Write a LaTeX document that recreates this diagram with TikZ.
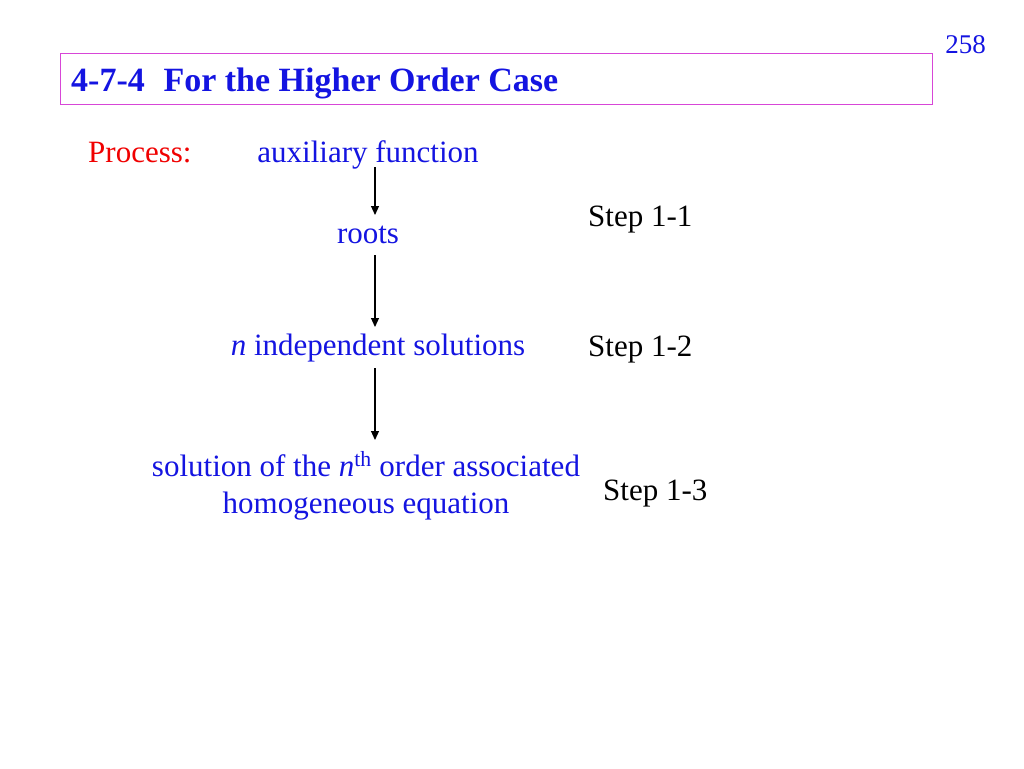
\documentclass[tikz,border=0pt]{standalone}
\usepackage{fontspec}
\setmainfont{Liberation Serif}
\usetikzlibrary{arrows.meta}
\definecolor{tblue}{RGB}{20,20,225}
\definecolor{tred}{RGB}{240,0,0}
\definecolor{tmag}{RGB}{215,70,215}
\tikzset{
  body/.style={inner sep=0pt, font=\fontsize{31}{37}\selectfont},
  flow/.style={body, text=tblue},
  steplabel/.style={body, text=black},
  arr/.style={draw=black, line width=1.2pt, -{Triangle[length=9pt,width=8pt]}},
}
\begin{document}
\begin{tikzpicture}[x=1pt,y=-1pt]
\useasboundingbox[fill=white] (0,0) rectangle (1024,768);
\node[draw=tmag, line width=1pt, minimum width=872pt, minimum height=51pt, anchor=north west, inner sep=0pt] (titlebox) at (60,53) {};
\node[anchor=base west, inner sep=0pt, text=tblue, font=\fontsize{34}{40}\selectfont\bfseries] (title) at (71,91) {4-7-4\hspace{0.55em}For the Higher Order Case};
\node[anchor=base east, inner sep=0pt, text=tblue, font=\fontsize{27}{32}\selectfont] (page) at (986,54) {258};
\node[body, text=tred, anchor=base west] (process) at (88,162) {Process:};
\node[flow, anchor=base] (aux) at (368,162) {auxiliary function};
\node[flow, anchor=base] (roots) at (368,243) {roots};
\node[flow, anchor=base] (indep) at (378,355) {\textit{n} independent solutions};
\node[flow, anchor=base] (sol1) at (366,476) {solution of the \textit{n}\textsuperscript{th} order associated};
\node[flow, anchor=base] (sol2) at (366,513) {homogeneous equation};
\node[steplabel, anchor=base west] (s1) at (588,226) {Step 1-1};
\node[steplabel, anchor=base west] (s2) at (588,356) {Step 1-2};
\node[steplabel, anchor=base west] (s3) at (603,500) {Step 1-3};
\coordinate (a1s) at (375,167); \coordinate (a1e) at (375,215);
\coordinate (a2s) at (375,255); \coordinate (a2e) at (375,327);
\coordinate (a3s) at (375,368); \coordinate (a3e) at (375,440);
\draw[arr] (a1s) -- (a1e);
\draw[arr] (a2s) -- (a2e);
\draw[arr] (a3s) -- (a3e);
\end{tikzpicture}
\end{document}
